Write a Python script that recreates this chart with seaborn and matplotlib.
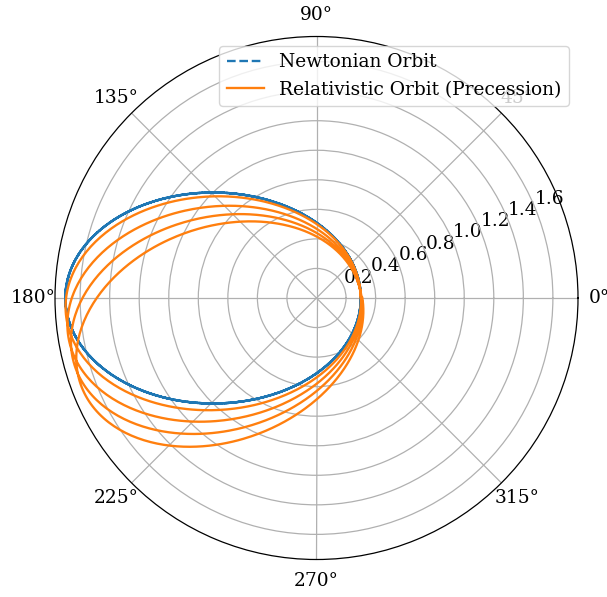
import numpy as np
import pandas as pd
import matplotlib
matplotlib.use("Agg")
import matplotlib.pyplot as plt
import seaborn as sns

# Orbital parameters
semi_major_axis = 1.0
eccentricity = 0.7
n_orbits = 4
precession_rate = 0.016   # fractional slowdown of the angular argument
n_samples = 2000

series_labels = ["Newtonian Orbit", "Relativistic Orbit (Precession)"]
series_colors = ["#1f77b4", "#ff7f0e"]

theta = np.linspace(0, 2 * np.pi * n_orbits, n_samples)
p = semi_major_axis * (1 - eccentricity ** 2)
r_newton = p / (1 + eccentricity * np.cos(theta))
r_rel = p / (1 + eccentricity * np.cos((1 - precession_rate) * theta))

df_newton = pd.DataFrame({"theta": theta, "r": r_newton})
df_rel = pd.DataFrame({"theta": theta, "r": r_rel})

scale = 1.12
plt.rcParams["font.family"] = ["DejaVu Serif"]
plt.rcParams["font.size"] = 12 * scale
plt.rcParams["lines.linewidth"] = 1.5 * scale
plt.rcParams["grid.linewidth"] = 0.8 * scale
plt.rcParams["axes.linewidth"] = 0.8 * scale
plt.rcParams["xtick.major.pad"] = 4.5 * scale
plt.rcParams["ytick.major.pad"] = 3.5 * scale

fig = plt.figure(figsize=(6.07, 5.97), dpi=100)
ax = fig.add_axes([55 / 607, 37.5 / 597, 523 / 607, 523 / 597], projection="polar")

sns.lineplot(data=df_newton, x="theta", y="r", ax=ax, sort=False, estimator=None,
             color=series_colors[0], linestyle="--", label=series_labels[0])
sns.lineplot(data=df_rel, x="theta", y="r", ax=ax, sort=False, estimator=None,
             color=series_colors[1], label=series_labels[1])

ax.set_xlabel("")
ax.set_ylabel("")
ax.grid(True)
ax.legend(loc="upper right")

fig.savefig("out.png", dpi=100)
